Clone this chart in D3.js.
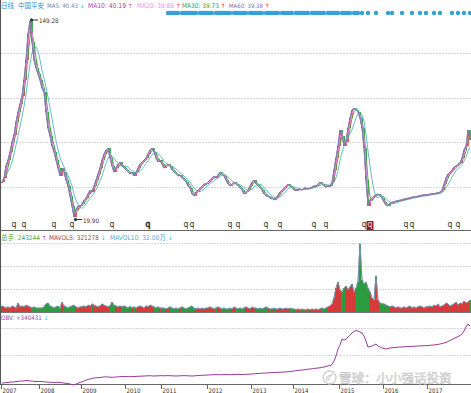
<!DOCTYPE html>
<html><head><meta charset="utf-8">
<script src="https://cdn.jsdelivr.net/npm/d3@7"></script>
<style>body{margin:0;background:#fff}svg{display:block}</style>
</head><body>
<script>
// ---------------- DATA ----------------
const years = ["2007","2008","2009","2010","2011","2012","2013","2014","2015","2016","2017"];
const yearStart = [0,19,40,62,80,103,125,146,169,191,213];
// sampled closes (one sample ~ two weeks of trading)
const close = [
 43.0,45.6,53.6,57.5,62.8,69.4,74.0,82.6,89.2,94.5,99.8,110.3,123.5,140.7,149.28,135.4,123.5,118.2,114.3,
 110.3,105.0,102.4,89.2,78.6,73.4,66.8,62.8,57.5,52.2,47.0,52.2,49.6,44.3,40.4,33.8,27.2,19.90,24.5,27.2,27.2,
 28.5,31.1,32.4,35.1,37.7,36.4,40.4,44.3,48.3,52.2,57.5,61.5,64.1,65.4,58.8,53.6,49.6,52.2,54.9,56.2,53.6,52.2,
 50.9,49.6,48.3,49.6,47.0,49.6,52.2,54.9,56.2,57.5,58.8,61.5,64.1,65.4,62.8,58.8,56.2,57.5,
 54.9,52.2,53.6,54.9,53.6,50.9,49.6,48.3,47.0,47.6,45.6,44.3,43.0,40.4,39.0,35.1,33.8,36.4,37.7,39.0,40.4,41.7,41.7,
 43.0,44.3,45.6,47.0,45.6,47.6,49.6,48.3,47.0,44.3,41.7,40.4,41.7,43.0,41.7,40.4,39.0,37.7,35.1,36.4,37.7,40.4,
 43.0,44.3,41.7,40.4,39.0,37.7,35.1,33.8,33.8,32.4,32.4,31.1,32.4,34.4,36.4,37.7,39.0,40.4,41.7,40.4,39.0,
 37.7,37.7,37.7,38.4,37.7,39.0,39.0,38.4,39.0,39.7,40.4,40.4,41.7,43.0,41.7,40.4,39.7,40.4,40.4,43.0,50.9,58.8,66.8,
 77.3,73.4,66.8,69.4,78.6,85.2,90.5,91.8,90.5,89.2,85.2,78.6,65.4,44.3,27.2,31.1,32.4,33.8,34.4,35.1,33.8,32.4,
 29.8,27.8,27.2,29.1,29.8,29.8,30.5,30.5,31.1,31.1,31.8,31.8,32.4,32.4,33.1,33.1,33.1,33.8,33.8,34.4,34.4,34.4,
 34.4,35.1,35.1,35.1,35.7,35.7,36.4,37.7,41.7,45.6,48.3,49.6,50.9,52.9,53.6,54.9,55.5,58.8,64.1,66.8,77.3,70.7
];
// volume, 万手
const volume = [
 26,22,17,22,17,26,22,17,39,22,26,22,30,26,22,17,22,17,17,
 17,17,22,35,39,26,22,17,22,26,17,43,26,22,17,22,26,30,22,17,22,
 22,26,22,30,26,35,30,26,22,26,35,30,26,22,26,43,30,26,22,26,22,26,
 22,17,26,17,22,17,22,26,22,17,26,22,30,26,22,17,22,17,
 17,17,13,17,22,17,13,17,13,17,22,17,13,17,22,26,17,13,17,13,17,13,17,
 17,22,17,13,17,22,17,13,17,13,13,17,13,22,17,13,17,13,17,22,17,13,
 22,17,17,13,17,13,17,22,17,13,13,17,13,13,17,13,13,17,13,17,13,
 13,9,13,9,13,9,9,13,9,13,9,13,9,13,17,13,17,22,26,35,61,104,130,
 96,87,104,113,96,109,122,87,104,130,296,139,122,130,104,87,61,52,157,52,39,35,
 35,30,26,22,26,22,17,22,17,17,22,17,22,26,17,22,17,22,26,22,17,22,
 22,26,22,30,26,35,22,26,30,39,35,26,30,35,43,30,39,35,48,39,43,52
];
// on-balance volume
const obv = [
 0,0,500,500,1000,1000,1000,1500,1500,2000,2000,2000,2500,2500,2000,2000,1500,1500,1500,
 1500,1500,1200,1000,800,800,600,500,600,800,500,300,0,-300,-600,-1000,-1500,-2000,-1200,-200,500,
 1200,2000,2800,3500,4000,4500,5000,5200,5400,5500,5800,6000,6200,6000,5800,5700,5800,6000,6200,6300,6400,6500,
 6500,6400,6300,6400,6500,6600,6700,6800,6900,7000,7100,7200,7300,7100,7000,7100,7200,7300,
 7300,7200,7300,7400,7300,7200,7100,7000,7100,7200,7300,7400,7300,7200,7100,7000,7100,7300,7500,7600,7700,7800,7900,
 8000,8100,8200,8300,8400,8300,8200,8300,8400,8500,8400,8300,8400,8500,8600,8700,8600,8500,8600,8700,8800,8900,
 9000,9200,9400,9500,9600,9800,9900,10000,10100,10300,10400,10500,10600,10700,10800,10900,11000,11100,11300,11500,11800,
 12000,12300,12500,12800,13000,13200,13500,13800,14000,14200,14500,14800,15000,15200,15600,16000,16500,17000,17500,18500,22000,27000,34000,
 38000,44000,43000,43500,46000,48000,50000,51500,52500,52000,51000,50000,47000,42000,36000,36500,37000,38000,39000,37000,36000,35000,
 34500,34000,34500,35000,35200,35500,35500,35800,36000,36000,36200,36400,36300,36500,36600,36800,36700,37000,37100,37200,37300,37400,
 37500,37700,37900,38000,38300,38600,39000,39500,40000,40500,41500,42500,43500,44500,45500,46500,47500,49000,52000,56000,59000,57000
];
const eventIdx = [83,84,85,86,87,88,90,91,92,93,94,95,96,97,99,100,101,102,103,104,105,107,108,109,110,111,112,113,114,116,117,118,119,120,121,122,124,125,126,127,128,129,130,132,133,134,135,136,137,138,140,141,142,143,144,145,147,148,149,150,151,152,153,155,156,157,158,159,160,161,163,164,165,166,167,168,170,171,172,173,174,176,177,178,180,183,187,193,195,200,205,209,212,216,219,225,228,231,234];
const dividendIdx = [6,11,26,35,55,73,92,95,114,118,132,139,156,162,181,202,205,224,228];
const doubleDividendIdx = [73];
const currentDividendIdx = [184];
const maDays = [5,10,20,30,60];
const maLegend = ["40.43","40.19","39.88","39.73","39.38"];
const maTrend = ["↓","↑","↑","↑","↑"];
const volLegend = [["总手", "243244", "↑"], ["MAVOL5", "321278", "↓"], ["MAVOL10", "32.00万", "↓"]];
const obvLegend = ["OBV", "+340431", "↓"];
const priceGrid = [39.7, 69.4, 98.5, 128.1];
const volGrid = [100, 200, 300];
const obvGrid = [28000, 55000];
const tradingDaysPerSample = 10.6;

// ---------------- DRAW ----------------
const W = 471, H = 393;
const FONT = "'Liberation Sans Narrow', 'DejaVu Sans Condensed', 'Liberation Sans', 'Noto Sans CJK SC', sans-serif";
const svg = d3.select("body").append("svg").attr("width", W).attr("height", H)
  .style("font-family", FONT);
const N = close.length;
const x = d3.scaleLinear().domain([0, N - 1]).range([2, 470]);
const yP = d3.scaleLinear().domain([12.0, 151.25]).range([229, 18]);
const yV = d3.scaleLinear().domain([0, 300]).range([312, 243]);
const yO = d3.scaleLinear().domain([-2000, 63000]).range([385, 320]);

const UP = "#e3292b", DOWN = "#129a2e";

function movingAvg(arr, days) {
  const span = days / tradingDaysPerSample;
  return arr.map((_, i) => {
    let s = 0, w = 0;
    for (let k = 0; span - k > 0 && i - k >= 0; k++) {
      const wk = Math.min(1, span - k);
      s += wk * arr[i - k]; w += wk;
    }
    return s / w;
  });
}

// grids
function grid(vals, scale, x0, x1) {
  svg.append("g").selectAll("line").data(vals).join("line")
    .attr("x1", x0).attr("x2", x1)
    .attr("y1", d => Math.round(scale(d)) + 0.5).attr("y2", d => Math.round(scale(d)) + 0.5)
    .attr("stroke", "#d6d6d6").attr("stroke-dasharray", "2,1");
}
grid(priceGrid, yP, 1, W);
grid(volGrid, yV, 1, W);
grid(obvGrid, yO, 1, W);

// candles
const isUp = close.map((c, i) => i === 0 ? true : c >= close[i - 1]);
svg.append("g").selectAll("rect").data(close).join("rect")
  .attr("x", (d, i) => x(i) - 0.8).attr("width", 1.6)
  .attr("y", (d, i) => yP(Math.max(d, i ? close[i - 1] : d)))
  .attr("height", (d, i) => Math.max(1, Math.abs(yP(d) - yP(i ? close[i - 1] : d))))
  .attr("fill", (d, i) => isUp[i] ? UP : DOWN);

// moving averages
const maColors = ["#6f8cab", "#b03aa8", "#f08ef0", "#3a9e3a", "#53b3c6"];
maDays.slice().reverse().forEach((d, j) => {
  const k = maDays.length - 1 - j;
  const ma = movingAvg(close, d);
  svg.append("path").datum(ma)
    .attr("d", d3.line().x((v, i) => x(i)).y(v => yP(v)))
    .attr("fill", "none").attr("stroke", maColors[k]).attr("stroke-width", 0.9);
});

// helper for labels: fit text to a target width by adjusting font size
function label(t, xx, yy, c, size, target) {
  const el = svg.append("text").attr("x", xx).attr("y", yy).attr("font-size", size).attr("fill", c).text(t);
  if (target) {
    const w = el.node().getComputedTextLength();
    if (w > target) el.attr("font-size", size * target / w);
  }
  return el;
}
function textWidth(el) { return el.node().getComputedTextLength(); }

// extremes
const iMax = d3.maxIndex(close), iMin = d3.minIndex(close);
const ext = svg.append("g").attr("fill", "#333").attr("stroke", "#333");
ext.append("line").attr("x1", x(iMax) + 1).attr("x2", x(iMax) + 8)
  .attr("y1", yP(close[iMax]) - 1).attr("y2", yP(close[iMax]) - 1);
ext.append("circle").attr("cx", x(iMax) + 1.5).attr("cy", yP(close[iMax]) - 1).attr("r", 1.2);
label(d3.format(".2f")(close[iMax]), x(iMax) + 9, yP(close[iMax]) + 2, "#333", 7.5, 19.5);
ext.append("line").attr("x1", x(iMin) + 1).attr("x2", x(iMin) + 8)
  .attr("y1", yP(close[iMin]) + 2.5).attr("y2", yP(close[iMin]) + 2.5);
ext.append("circle").attr("cx", x(iMin) + 1.5).attr("cy", yP(close[iMin]) + 2.5).attr("r", 1.2);
label(d3.format(".2f")(close[iMin]), x(iMin) + 9, yP(close[iMin]) + 5.5, "#333", 7.5, 16);

// event dots
svg.append("g").selectAll("circle").data(eventIdx).join("circle")
  .attr("cx", d => x(d)).attr("cy", 13).attr("r", 2.2).attr("fill", "#3a9fd6");

// dividend markers
svg.append("g").selectAll("text").data(dividendIdx).join("text")
  .attr("x", d => x(d)).attr("y", 227).attr("text-anchor", "middle")
  .attr("font-size", 8.5).attr("fill", "#333")
  .attr("stroke", d => doubleDividendIdx.includes(d) ? "#333" : "none").attr("stroke-width", 0.6)
  .text("q");
const cd = svg.append("g").selectAll("g").data(currentDividendIdx).join("g");
cd.append("rect").attr("x", d => x(d) - 3.5).attr("y", 221).attr("width", 7).attr("height", 9).attr("fill", "#9b1c1c");
cd.append("text").attr("x", d => x(d)).attr("y", 227).attr("text-anchor", "middle")
  .attr("font-size", 8.5).attr("fill", "#f2dada").text("q");

// separators
svg.append("line").attr("x1", 0).attr("x2", W).attr("y1", 230.5).attr("y2", 230.5).attr("stroke", "#666");
svg.append("line").attr("x1", 0).attr("x2", W).attr("y1", 312.5).attr("y2", 312.5).attr("stroke", "#777");
svg.append("line").attr("x1", 0).attr("x2", W).attr("y1", 384.5).attr("y2", 384.5).attr("stroke", "#666");
svg.append("line").attr("x1", 0.5).attr("x2", 0.5).attr("y1", 0).attr("y2", 385).attr("stroke", "#555");

// volume bars
svg.append("g").selectAll("rect").data(volume).join("rect")
  .attr("x", (d, i) => x(i) - 0.9).attr("width", 1.8)
  .attr("y", d => yV(d)).attr("height", d => yV(0) - yV(d))
  .attr("fill", (d, i) => isUp[i] ? "#d42424" : "#16922c");
[[5, "#b13a3a"], [10, "#4fb0cc"]].forEach(([d, c]) => {
  svg.append("path").datum(movingAvg(volume, d))
    .attr("d", d3.line().x((v, i) => x(i)).y(v => yV(v)))
    .attr("fill", "none").attr("stroke", c).attr("stroke-width", 0.8);
});

// OBV
svg.append("path").datum(obv)
  .attr("d", d3.line().x((v, i) => x(i)).y(v => yO(v)))
  .attr("fill", "none").attr("stroke", "#9b3d9b").attr("stroke-width", 1);

// x axis
const xa = svg.append("g");
xa.selectAll("line").data(yearStart).join("line")
  .attr("x1", d => Math.round(x(d) - 1) + 0.5).attr("x2", d => Math.round(x(d) - 1) + 0.5)
  .attr("y1", 385).attr("y2", 389).attr("stroke", "#666");
yearStart.forEach((d, i) => label(years[i], x(d) + 0.5, 392.5, "#333", 7.5, 14));

// headers: text fitted to its width, arrow placed after the measured text
const ARROW = { "↑": "#ee2222", "↓": "#19c4ec" };
function withArrow(t, xx, yy, c, w, arrow) {
  const el = label(t, xx, yy, c, 7.5, w);
  const end = xx + textWidth(el);
  label(arrow, end + 2, yy, ARROW[arrow], 7.5, 4.5);
}
label("日线", 1, 8, "#2f92d2", 6.5, 13);
label("中国平安", 18, 8, "#2f92d2", 6.5, 26);
const maPos = [[47, 31], [88, 38], [137, 37], [182, 37], [229, 34]];
const maTextColors = ["#6f8cab", "#a63c9e", "#f08ef0", "#3a9e3a", "#8d6ca8"];
maDays.forEach((d, i) => withArrow(`MA${d}: ${maLegend[i]}`, maPos[i][0], 8, maTextColors[i], maPos[i][1], maTrend[i]));
const volPos = [[1, 39], [49, 50], [110, 56]];
const volColors = ["#3fa63f", "#b13a3a", "#5aa6c8"];
volLegend.forEach((v, i) => withArrow(`${v[0]}: ${v[1]}`, volPos[i][0], 240, volColors[i], volPos[i][1], v[2]));
withArrow(`${obvLegend[0]}: ${obvLegend[1]}`, 1, 320, "#9b4aa0", 41, obvLegend[2]);

// watermark
const wm = svg.append("g");
wm.append("circle").attr("cx", 329.5).attr("cy", 377.5).attr("r", 6.5)
  .attr("fill", "none").attr("stroke", "#cfcfcf").attr("stroke-width", 1.4);
wm.append("path").attr("d", "M326,380.5 C327,376 330,374.5 333,374.5 M327.5,381 L332,374")
  .attr("fill", "none").attr("stroke", "#cfcfcf").attr("stroke-width", 1.2);
label("雪球：小小强话投资", 339, 383, "#ececec", 12.5, 114)
  .attr("font-family", "'Noto Sans CJK SC', sans-serif")
  .attr("stroke", "#c4c4c4").attr("stroke-width", 0.5);
</script>
</body></html>
